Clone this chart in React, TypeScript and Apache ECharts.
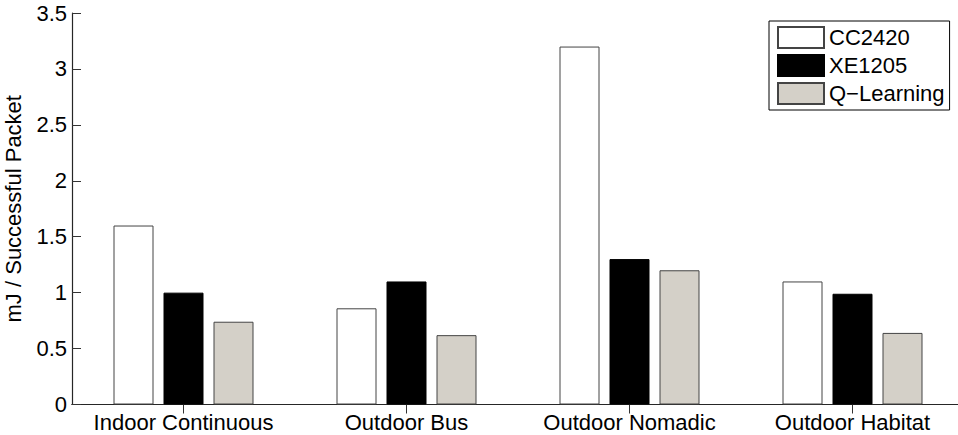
import React, { useEffect, useRef } from "react";
import * as echarts from "echarts";

const categories = ["Indoor Continuous", "Outdoor Bus", "Outdoor Nomadic", "Outdoor Habitat"];
const seriesNames = ["CC2420", "XE1205", "Q\u2212Learning"];
const cc2420 = [1.6, 0.86, 3.2, 1.1];
const xe1205 = [1.0, 1.1, 1.3, 0.99];
const qLearning = [0.74, 0.62, 1.2, 0.64];
const yTicks = { min: 0, max: 3.5, interval: 0.5 };

const FONT = "'Liberation Sans', Arial, sans-serif";
const AXIS = "#262626";

export default function App() {
  const ref = useRef<HTMLDivElement>(null);
  useEffect(() => {
    if (!ref.current) return;
    const chart = echarts.init(ref.current, null, { renderer: "svg" });
    const tickStyle = { show: true, inside: true, length: 9, lineStyle: { color: "#333", width: 1 } };
    const values = [cc2420, xe1205, qLearning];
    const styles = [
      { color: "#ffffff", borderColor: "#444", borderWidth: 1 },
      { color: "#000000", borderColor: "#000", borderWidth: 1 },
      { color: "#d4d0c8", borderColor: "#444", borderWidth: 1 },
    ];
    chart.setOption({
      animation: false,
      backgroundColor: "#ffffff",
      textStyle: { fontFamily: FONT },
      grid: { left: 72, top: 13, width: 892, height: 391.5, containLabel: false, outerBoundsMode: "none" },
      legend: {
        orient: "vertical",
        left: 769,
        top: 21,
        padding: [5, 5, 5, 8],
        itemWidth: 46,
        itemHeight: 21,
        itemGap: 5,
        borderColor: "#000",
        borderWidth: 1,
        backgroundColor: "#fff",
        icon: "rect",
        textStyle: { fontSize: 22, color: "#000", fontFamily: FONT },
        data: seriesNames,
      },
      xAxis: [
        {
          type: "category",
          data: categories,
          position: "bottom",
          axisLine: { show: true, lineStyle: { color: AXIS, width: 1.2 } },
          axisTick: { ...tickStyle, alignWithLabel: true },
          axisLabel: { show: true, interval: 0, fontSize: 22, color: "#000", margin: 7, fontFamily: FONT },
        },
        {
          type: "category",
          data: categories,
          position: "top",
          axisLine: { show: true, lineStyle: { color: AXIS, width: 1.2 } },
          axisTick: { ...tickStyle, alignWithLabel: true },
          axisLabel: { show: false },
        },
      ],
      yAxis: [
        {
          type: "value",
          position: "left",
          min: yTicks.min,
          max: yTicks.max,
          interval: yTicks.interval,
          name: "mJ / Successful Packet",
          nameLocation: "middle",
          nameGap: 48,
          nameTextStyle: { fontSize: 22, color: "#000", fontFamily: FONT },
          axisLine: { show: true, lineStyle: { color: AXIS, width: 1.2 } },
          axisTick: tickStyle,
          splitLine: { show: false },
          axisLabel: { fontSize: 22, color: "#000", margin: 5, fontFamily: FONT },
        },
        {
          type: "value",
          show: false,
          position: "right",
          min: yTicks.min,
          max: yTicks.max,
          interval: yTicks.interval,
        },
      ],
      series: seriesNames.map((name, i) => ({
        name,
        type: "bar",
        xAxisIndex: 0,
        yAxisIndex: 0,
        data: values[i],
        barWidth: 40,
        barGap: "25%",
        itemStyle: styles[i],
        emphasis: { disabled: true },
      })),
    });
    return () => chart.dispose();
  }, []);
  return <div ref={ref} style={{ position: "absolute", left: 0, top: 0, width: 958, height: 435, overflow: "hidden" }} />;
}
